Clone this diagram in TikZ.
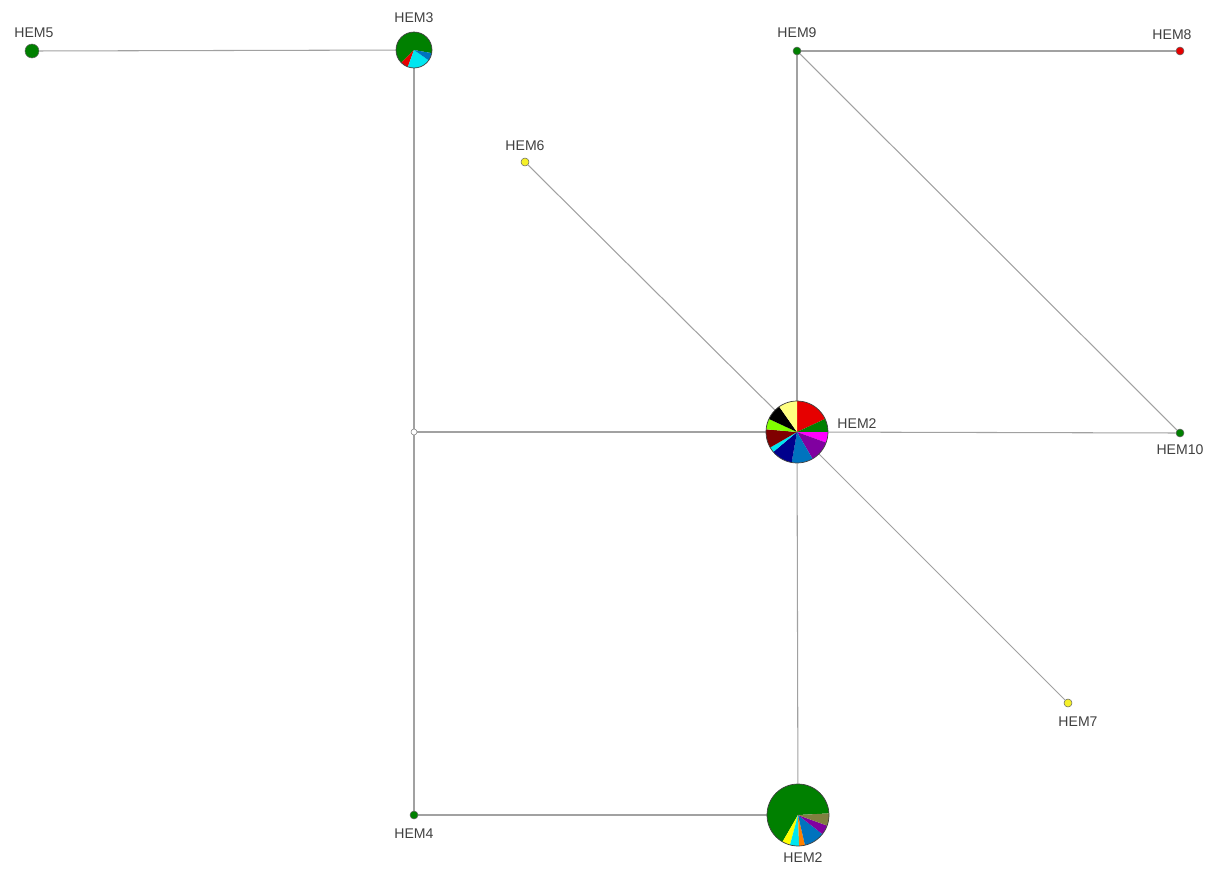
\documentclass[tikz,border=0pt]{standalone}
\usepackage{fontspec}
\setmainfont{Liberation Sans}
\usetikzlibrary{backgrounds}
\definecolor{hgreen}{RGB}{0,128,0}
\definecolor{hred}{RGB}{230,0,0}
\definecolor{hcyan}{RGB}{0,230,240}
\definecolor{hsteel}{RGB}{0,115,190}
\definecolor{hmag}{RGB}{255,0,255}
\definecolor{hpurple}{RGB}{128,0,160}
\definecolor{hnavy}{RGB}{0,0,140}
\definecolor{hdred}{RGB}{128,0,0}
\definecolor{hlgreen}{RGB}{128,255,0}
\definecolor{hlyellow}{RGB}{255,255,128}
\definecolor{hyellow}{RGB}{255,255,0}
\definecolor{horange}{RGB}{255,128,0}
\definecolor{holive}{RGB}{128,128,64}
\definecolor{hyel}{RGB}{245,240,40}
\newcommand\hslice[5]{\fill[#5] (#1.center) -- ++(#3:#2) arc[start angle=#3,end angle=#4,radius=#2] -- cycle;}
\begin{document}
\begin{tikzpicture}[x=0.02cm,y=-0.02cm]
\useasboundingbox (0,0) rectangle (1215,869);
\tikzset{
  edge/.style={draw=black!37, line width=0.6pt},
  hap/.style={circle, inner sep=0pt, draw=black!60, line width=0.3pt},
  piebase/.style={circle, inner sep=0pt},
  pieline/.style={draw=black!75, line width=0.4pt},
  lbl/.style={font=\fontsize{8}{9.5}\selectfont, text=black!75, inner sep=1pt},
}
% haplotype nodes
\node[hap, minimum size=0.28cm, fill=hgreen] (h5) at (32,51) {};
\node[piebase, minimum size=0.72cm] (h3) at (414,50) {};
\node[hap, minimum size=0.16cm, fill=hgreen] (h9) at (797,51) {};
\node[hap, minimum size=0.16cm, fill=hred] (h8) at (1180,51) {};
\node[hap, minimum size=0.16cm, fill=hyel] (h6) at (525,162) {};
\node[piebase, minimum size=1.24cm] (h2c) at (797,432) {};
\node[hap, minimum size=0.12cm, fill=white, draw=black!50] (mv) at (414,432) {};
\node[hap, minimum size=0.16cm, fill=hgreen] (h10) at (1180,433) {};
\node[hap, minimum size=0.16cm, fill=hyel] (h7) at (1068,703) {};
\node[hap, minimum size=0.16cm, fill=hgreen] (h4) at (414,815) {};
\node[piebase, minimum size=1.24cm] (h2b) at (798,815) {};

% labels
\node[lbl] (l5) at (34,33) {HEM5};
\node[lbl] (l3) at (414,18) {HEM3};
\node[lbl] (l9) at (797,33) {HEM9};
\node[lbl] (l8) at (1172,35) {HEM8};
\node[lbl] (l6) at (525,146) {HEM6};
\node[lbl] (l2c) at (857,424) {HEM2};
\node[lbl] (l10) at (1180,450) {HEM10};
\node[lbl] (l7) at (1078,722) {HEM7};
\node[lbl] (l4) at (414,834) {HEM4};
\node[lbl] (l2b) at (803,858) {HEM2};

% edges
\begin{scope}[on background layer]
\draw[edge] (h5) -- (h3);
\draw[edge] (h3) -- (mv);
\draw[edge] (mv) -- (h4);
\draw[edge] (mv) -- (h2c);
\draw[edge] (h4) -- (h2b);
\draw[edge] (h2c) -- (h2b);
\draw[edge] (h2c) -- (h9);
\draw[edge] (h9) -- (h8);
\draw[edge] (h9) -- (h10);
\draw[edge] (h2c) -- (h10);
\draw[edge] (h6) -- (h2c);
\draw[edge] (h2c) -- (h7);
\end{scope}

% HEM3 pie
\hslice{h3}{0.36cm}{-10}{225}{hgreen}
\hslice{h3}{0.36cm}{225}{250}{hred}
\hslice{h3}{0.36cm}{250}{325}{hcyan}
\hslice{h3}{0.36cm}{325}{350}{hsteel}
\draw[pieline] (h3.center) circle[radius=0.36cm];

% HEM2 centre pie
\hslice{h2c}{0.62cm}{25}{90}{hred}
\hslice{h2c}{0.62cm}{0}{25}{hgreen}
\hslice{h2c}{0.62cm}{-20}{0}{hmag}
\hslice{h2c}{0.62cm}{-60}{-20}{hpurple}
\hslice{h2c}{0.62cm}{-100}{-60}{hsteel}
\hslice{h2c}{0.62cm}{-140}{-100}{hnavy}
\hslice{h2c}{0.62cm}{-150}{-140}{hcyan}
\hslice{h2c}{0.62cm}{-185}{-150}{hdred}
\hslice{h2c}{0.62cm}{155}{175}{hlgreen}
\hslice{h2c}{0.62cm}{125}{155}{black}
\hslice{h2c}{0.62cm}{90}{125}{hlyellow}
\draw[pieline] (h2c.center) circle[radius=0.62cm];

% HEM2 bottom pie
\hslice{h2b}{0.62cm}{3}{240}{hgreen}
\hslice{h2b}{0.62cm}{240}{255}{hyellow}
\hslice{h2b}{0.62cm}{255}{272}{hcyan}
\hslice{h2b}{0.62cm}{272}{283}{horange}
\hslice{h2b}{0.62cm}{283}{322}{hsteel}
\hslice{h2b}{0.62cm}{322}{340}{hpurple}
\hslice{h2b}{0.62cm}{340}{363}{holive}
\draw[pieline] (h2b.center) circle[radius=0.62cm];
\end{tikzpicture}
\end{document}
